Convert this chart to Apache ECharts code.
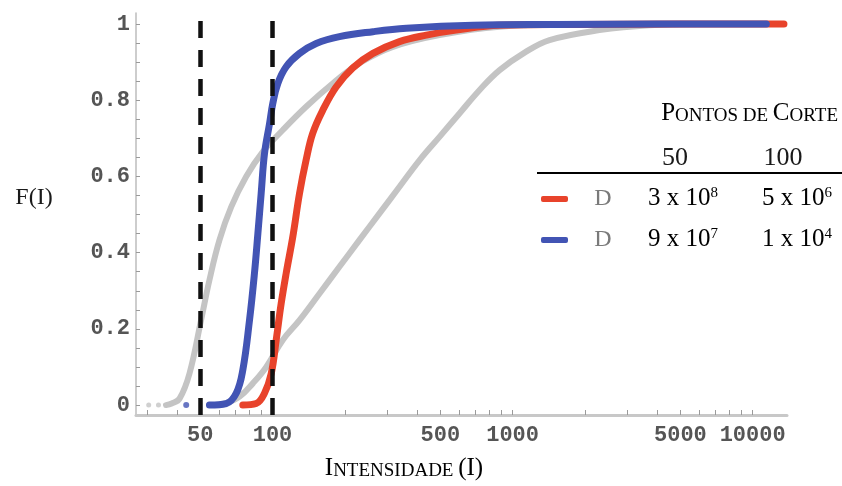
<!DOCTYPE html>
<html><head><meta charset="utf-8">
<script src="https://cdn.jsdelivr.net/npm/echarts@6/dist/echarts.min.js"></script>
<style>html,body{margin:0;padding:0;background:#fff}#c{width:842px;height:486px}</style>
</head><body><div id="c"></div>
<script>
// ---- data (intensity I, cumulative F(I)) ----
const grayLeftI  = [36, 38, 41.0, 45.1, 50.4, 54.6, 60.1, 67.3, 77.7, 91.2, 110.4, 138, 178, 230, 317, 496, 883, 1600, 3000, 5000];
const grayLeftF  = [0, 0.004, 0.017, 0.083, 0.223, 0.328, 0.433, 0.52, 0.60, 0.665, 0.722, 0.783, 0.844, 0.897, 0.94, 0.971, 0.993, 0.998, 1.0, 1.0];
const grayRightI = [58, 64.1, 72.9, 82.8, 94.2, 110.4, 129.6, 157, 190, 230, 279, 338, 410, 496, 602, 729, 883, 1122, 1425, 2300, 3720, 6000];
const grayRightF = [0, 0.005, 0.022, 0.057, 0.10, 0.171, 0.223, 0.293, 0.363, 0.433, 0.503, 0.573, 0.643, 0.704, 0.766, 0.827, 0.879, 0.925, 0.958, 0.984, 0.997, 1.0];
const redI  = [75.2, 85.5, 92.6, 98.8, 103.6, 108.7, 114, 121.5, 129.6, 138, 147, 162, 184, 216, 262, 338, 437, 582, 883, 1800, 5000, 13500];
const redF  = [0, 0.004, 0.031, 0.083, 0.171, 0.267, 0.346, 0.442, 0.556, 0.643, 0.713, 0.774, 0.835, 0.885, 0.923, 0.954, 0.971, 0.984, 0.997, 0.999, 1, 1];
const blueI = [54.6, 64.1, 70.6, 75.2, 80.2, 84.1, 86.9, 89.7, 92.6, 97.2, 100.3, 105.2, 114, 129.6, 152, 190, 262, 361, 683, 1500, 4000, 11400];
const blueF = [0, 0.004, 0.031, 0.092, 0.223, 0.346, 0.45, 0.556, 0.66, 0.739, 0.792, 0.844, 0.888, 0.923, 0.949, 0.967, 0.98, 0.989, 0.997, 0.999, 1, 1];
const grayDotsI = [30.5, 33.5];
const blueDotsI = [43.7];
const cutoffs = [50, 100];

// ---- axes ----
const xRange = [27, 13900];
const yRange = [-0.026, 1.029];
const xTickLabels = [50, 100, 500, 1000, 5000, 10000];
const xTicks = [30, 40, 50, 60, 70, 80, 90, 100, 200, 300, 400, 500, 600, 700, 800, 900, 1000, 2000, 3000, 4000, 5000, 6000, 7000, 8000, 9000, 10000];
const yTickLabels = [0, 0.2, 0.4, 0.6, 0.8, 1];
const yTicks = [0, 0.05, 0.1, 0.15, 0.2, 0.25, 0.3, 0.35, 0.4, 0.45, 0.5, 0.55, 0.6, 0.65, 0.7, 0.75, 0.8, 0.85, 0.9, 0.95, 1];

// ---- table ----
const tableTitle = 'Pontos de Corte';
const tableHeader = ['50', '100'];
const rowLabel = 'D';
const redRow = ['3 x 10^8', '5 x 10^6'];
const blueRow = ['9 x 10^7', '1 x 10^4'];

const RED = '#e8432b', BLUE = '#4254b4', GRAY = '#c4c4c4';
const L = Math.log10;
const pts = (I, F) => I.map((v, i) => [L(v), F[i]]);
const sup = s => { const p = s.split('^'); return '{n|' + p[0] + '}{s|' + p[1] + '}'; };
const smallCaps = s => s.split(' ').map(w => {
  const first = w[0], up = first === first.toUpperCase();
  return up ? '{b|' + first + '}' + (w.length > 1 ? '{s|' + w.slice(1).toUpperCase() + '}' : '') : '{s|' + w.toUpperCase() + '}';
}).join('{s| }');
const SERIF = '"Liberation Serif", "DejaVu Serif", serif';
const MONO = '"Liberation Mono", "DejaVu Sans Mono", monospace';

const chart = echarts.init(document.getElementById('c'));
const valRich = { n: { fontFamily: SERIF, fontSize: 25, color: '#1a1a1a', verticalAlign: 'bottom' }, s: { fontFamily: SERIF, fontSize: 15, color: '#1a1a1a', verticalAlign: 'top' } };
const capsRich = { b: { fontFamily: SERIF, fontSize: 25, color: '#1a1a1a', verticalAlign: 'bottom' }, s: { fontFamily: SERIF, fontSize: 19, color: '#1a1a1a', verticalAlign: 'bottom' } };
const C = { align: 'center', verticalAlign: 'middle', textAlign: 'center', textVerticalAlign: 'middle' };

const graphic = [
  { type: 'text', x: 34, y: 198, style: Object.assign({ text: 'F(I)', fontFamily: SERIF, fontSize: 24, fill: '#1a1a1a' }, C) },
  { type: 'text', x: 404, y: 468, style: Object.assign({ text: smallCaps('Intensidade') + '{s| }{b|(I)}', rich: capsRich }, C) },
  { type: 'text', x: 838, y: 113, style: { text: smallCaps(tableTitle), rich: capsRich, align: 'right', verticalAlign: 'middle', textAlign: 'right', textVerticalAlign: 'middle' } },
  { type: 'text', x: 675, y: 158, style: Object.assign({ text: tableHeader[0], fontFamily: SERIF, fontSize: 26, fill: '#1a1a1a' }, C) },
  { type: 'text', x: 783, y: 158, style: Object.assign({ text: tableHeader[1], fontFamily: SERIF, fontSize: 26, fill: '#1a1a1a' }, C) },
  { type: 'line', shape: { x1: 537, y1: 173, x2: 842, y2: 173 }, style: { stroke: '#000', lineWidth: 2 } }
];
[[redRow, RED, 199], [blueRow, BLUE, 240]].forEach(([row, col, y]) => {
  graphic.push({ type: 'rect', shape: { x: 541, y: y - 3, width: 27, height: 6, r: 2 }, style: { fill: col } });
  graphic.push({ type: 'text', x: 603, y: y, style: Object.assign({ text: rowLabel, fontFamily: SERIF, fontSize: 24, fill: '#7a7a7a' }, C) });
  graphic.push({ type: 'text', x: 683, y: y - 1, style: Object.assign({ text: sup(row[0]), rich: valRich }, C) });
  graphic.push({ type: 'text', x: 797, y: y - 1, style: Object.assign({ text: sup(row[1]), rich: valRich }, C) });
});

const lineSeries = (name, I, F, color, width, z) => ({
  name, type: 'line', data: pts(I, F), smooth: 0.4, showSymbol: false,
  lineStyle: { color, width, cap: 'round', join: 'round' }, z
});

chart.setOption({
  animation: false,
  backgroundColor: '#fff',
  grid: { left: 136, right: 55, top: 13, bottom: 71, containLabel: false, outerBoundsMode: 'none' },
  xAxis: {
    type: 'value', min: L(xRange[0]), max: L(xRange[1]),
    axisLine: { onZero: false, lineStyle: { color: '#c8c8c8', width: 3 } },
    axisTick: { show: true, inside: true, length: 5, customValues: xTicks.map(L), lineStyle: { color: '#9a9a9a', width: 1 } },
    axisLabel: { customValues: xTickLabels.map(L), formatter: v => String(Math.round(Math.pow(10, v))), fontFamily: MONO, fontWeight: 'bold', fontSize: 22, color: '#555', margin: 9 },
    splitLine: { show: false }
  },
  yAxis: {
    type: 'value', min: yRange[0], max: yRange[1],
    axisLine: { show: true, onZero: false, lineStyle: { color: '#bcbcbc', width: 1.5 } },
    axisTick: { show: true, inside: true, length: 4, customValues: yTicks, lineStyle: { color: '#9a9a9a', width: 1 } },
    axisLabel: { customValues: yTickLabels, fontFamily: MONO, fontWeight: 'bold', fontSize: 22, color: '#555', margin: 6 },
    splitLine: { show: false }
  },
  graphic: graphic,
  series: [
    lineSeries('gray1', grayLeftI, grayLeftF, GRAY, 6, 2),
    lineSeries('gray2', grayRightI, grayRightF, GRAY, 6, 2),
    { name: 'grayDots', type: 'scatter', data: grayDotsI.map(v => [L(v), 0]), symbolSize: 5, itemStyle: { color: GRAY }, z: 2 },
    lineSeries('red', redI, redF, RED, 7, 3),
    lineSeries('blue', blueI, blueF, BLUE, 7, 4),
    { name: 'blueDots', type: 'scatter', data: blueDotsI.map(v => [L(v), 0]), symbolSize: 6, itemStyle: { color: BLUE }, z: 4 },
    { name: 'cut', type: 'line', data: [], z: 6,
      markLine: { silent: true, symbol: 'none', label: { show: false },
        lineStyle: { color: '#111', width: 4.5, type: [17, 12] },
        data: cutoffs.map(c => ({ xAxis: L(c) })) } }
  ]
});
</script></body></html>
